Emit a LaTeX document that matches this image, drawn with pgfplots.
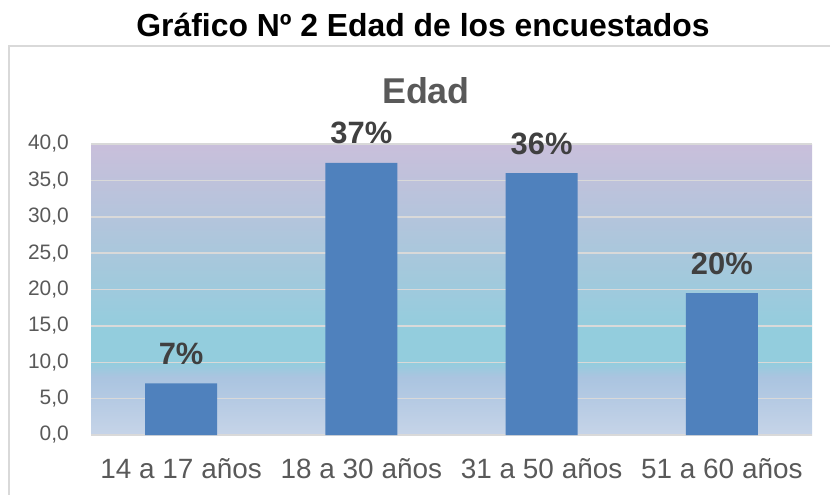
\documentclass[border=0pt]{standalone}
\usepackage{pgfplots}
\pgfplotsset{compat=1.18}
\usepackage{fontspec}
\setmainfont{Liberation Sans}
\definecolor{barblue}{HTML}{4F81BD}
\definecolor{gridc}{HTML}{D9D9D9}
\definecolor{txtgray}{HTML}{595959}
\definecolor{lblgray}{HTML}{404040}
\definecolor{cbot}{HTML}{C6D4E8}
\definecolor{clow}{HTML}{AAC4E0}
\definecolor{cmid}{HTML}{93CDDD}
\definecolor{ctop}{HTML}{C9BFDB}
\pgfdeclareverticalshading{edadbg}{100bp}{color(0bp)=(cbot); color(25bp)=(cbot); color(35bp)=(clow); color(37.5bp)=(cmid); color(43bp)=(cmid); color(75bp)=(ctop); color(100bp)=(ctop)}
\begin{document}
\begin{tikzpicture}
\useasboundingbox (0bp,0bp) rectangle (830bp,-495bp);
\draw[gridc, line width=1.5bp] (9bp,-500bp) -- (9bp,-46bp) -- (840bp,-46bp);
\node[anchor=base, inner sep=0pt, font=\fontsize{32}{38}\selectfont\bfseries] at (423bp,-36bp) {Gráfico Nº 2 Edad de los encuestados};
\node[anchor=base, inner sep=0pt, text=txtgray, font=\fontsize{36}{43}\selectfont\bfseries] at (426bp,-103bp) {Edad};
\begin{axis}[
  at={(91bp,-435bp)}, anchor=south west,
  scale only axis, width=721bp, height=291bp,
  xmin=-0.5, xmax=3.5, ymin=0, ymax=40,
  ytick={0,5,...,40},
  xtick={0,1,2,3},
  xticklabels={14 a 17 años, 18 a 30 años, 31 a 50 años, 51 a 60 años},
  ybar, bar width=0.4,
  ymajorgrids, grid style={gridc, line width=1.5bp},
  axis line style={draw=none},
  major tick length=0pt,
  axis background/.style={shading=edadbg},
  /pgf/number format/assume math mode=true,
  yticklabel style={font=\fontsize{21}{25}\selectfont, text=txtgray, anchor=east, inner sep=0pt, xshift=-22bp,
    /pgf/number format/fixed, /pgf/number format/fixed zerofill, /pgf/number format/precision=1, /pgf/number format/use comma},
  xticklabel style={font=\fontsize{28}{33}\selectfont, text=txtgray, anchor=north, inner sep=0pt, yshift=-23bp},
  clip=false,
  nodes near coords, point meta=explicit symbolic,
  every node near coord/.append style={font=\fontsize{31}{37}\selectfont\bfseries, text=lblgray, anchor=base, inner sep=0pt, yshift=19bp},
]
\addplot[fill=barblue, draw=none] coordinates {(0,7.1) [7\%] (1,37.4) [37\%] (2,36.0) [36\%] (3,19.5) [20\%]};
\end{axis}
\end{tikzpicture}
\end{document}
